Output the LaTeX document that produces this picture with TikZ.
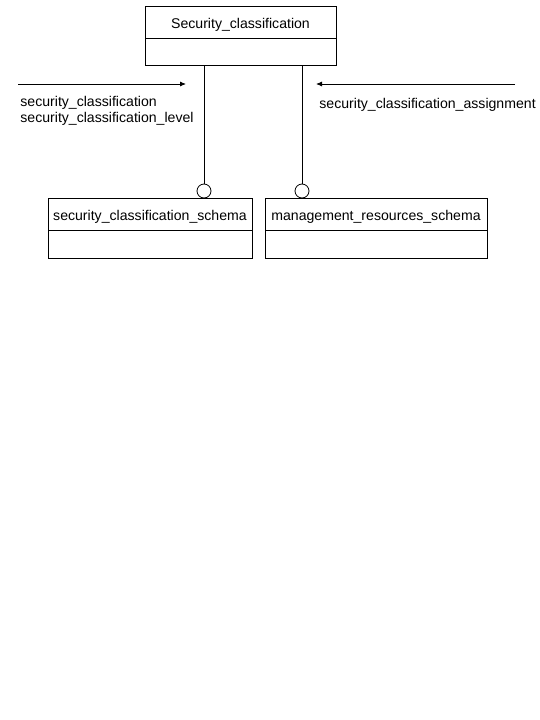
\documentclass[tikz,border=0pt]{standalone}
\usepackage{fontspec}
\setmainfont{Liberation Sans}
\usetikzlibrary{shapes,arrows,arrows.meta}
\usetikzlibrary{positioning}
\tikzset{%
	entity/.style   = {draw, rectangle, minimum height = 32pt, inner sep = 0pt,
		outer sep = 0pt, text height = 12.5pt, text depth = 0.5pt,
		font = \fontsize{14.1}{16}\selectfont},
	body/.style     = {draw, rectangle, minimum height = 28pt, inner sep = 0pt,
		outer sep = 0pt}, % Empty part
	ring/.style     = {draw, circle, minimum size = 14pt, inner sep = 0pt}, % Schema end
	label/.style    = {anchor = north west, inner sep = 0pt, align = left,
		font = \fontsize{14.1}{16}\selectfont},
	point/.style    = {coordinate} % Free end
}

\begin{document}
\begin{tikzpicture}[x=1pt, y=-1pt, line width=0.8pt, >={Latex[length=6pt, width=5pt]}]
			\useasboundingbox (0,0) rectangle (540,720);
			\node[entity, minimum width = 191pt, minimum height = 32.5pt] (sc) at (240.5,22.25) {Security\_classification};
			\node[body, minimum width = 191pt, minimum height = 27pt, below = 0pt of sc] (scb) {};
			\node[entity, minimum width = 204pt] (scs) at (150,214) {security\_classification\_schema};
			\node[body, minimum width = 204pt, below = 0pt of scs] (scsb) {};
			\node[entity, minimum width = 222pt] (mrs) at (376,214) {management\_resources\_schema};
			\node[body, minimum width = 222pt, below = 0pt of mrs] (mrsb) {};
			\node[ring] (a) at (204,191) {};
			\node[ring] (b) at (302,191) {};
			
			\coordinate (l1) at (18,84);
			\coordinate (l2) at (186,84);
			\coordinate (r1) at (515,84);
			\coordinate (r2) at (316,84);
			
			\node[label] (ltext) at (20,96) {security\_classification\\security\_classification\_level};
			\node[label] (rtext) at (319,97.5) {security\_classification\_assignment};
			
			\draw (scb.south -| a) -- (a);
			\draw (scb.south -| b) -- (b);
			\draw[->] (l1) -- (l2);
			\draw[->] (r1) -- (r2);
		\end{tikzpicture}
\end{document}
